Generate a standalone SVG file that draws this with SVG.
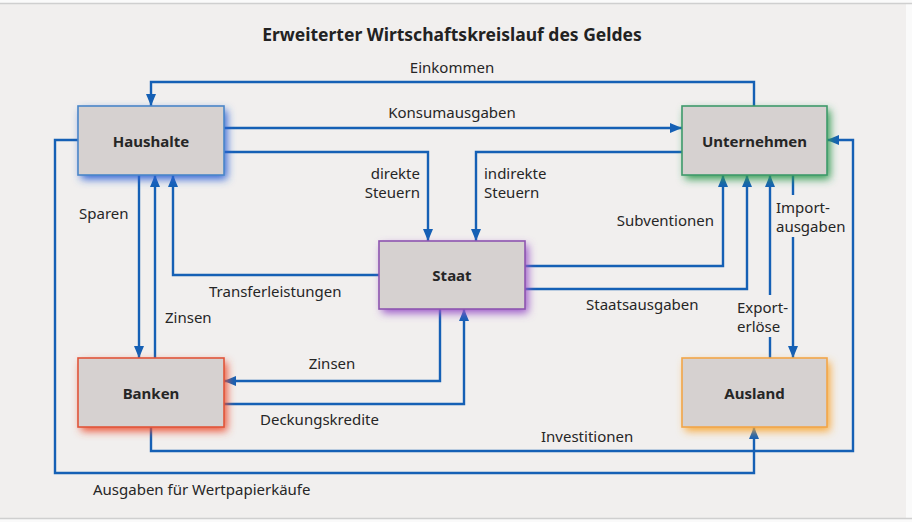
<svg xmlns="http://www.w3.org/2000/svg" width="912" height="522" viewBox="0 0 912 522">
<style>
.lbl{font-family:"Noto Sans","Open Sans","DejaVu Sans",sans-serif;font-size:15px;fill:#262626}
.title{font-family:"Noto Sans","Open Sans","DejaVu Sans",sans-serif;font-size:17.5px;font-weight:bold;fill:#222}
.nlbl{font-family:"Noto Sans","Open Sans","DejaVu Sans",sans-serif;font-size:15px;font-weight:bold;fill:#262626;text-anchor:middle}
.box{fill:#d6d1d0;stroke-width:1.6}
.glow{filter:url(#blur)}
.conn path{fill:none;stroke:#1560b5;stroke-width:2.4;marker-end:url(#arr)}
</style>
<defs>
<filter id="blur" x="-30%" y="-30%" width="160%" height="160%"><feGaussianBlur stdDeviation="4"/></filter>
<marker id="arr" markerUnits="userSpaceOnUse" markerWidth="13" markerHeight="11" refX="12" refY="5" orient="auto"><path d="M0,0 L12,5 L0,10 z" fill="#1560b5"/></marker>
</defs>
<rect x="0" y="0" width="912" height="522" fill="#fafafa"/>
<rect x="0" y="4" width="906" height="514" fill="#f1efee"/>
<line x1="0" y1="3.5" x2="912" y2="3.5" stroke="#cfcfcf" stroke-width="1.5"/>
<line x1="0" y1="518.5" x2="912" y2="518.5" stroke="#cfcfcf" stroke-width="1.5"/>
<text class="title" x="452" y="40.5" text-anchor="middle">Erweiterter Wirtschaftskreislauf des Geldes</text>

<g id="connectors" class="conn">
<path id="c-einkommen" d="M754,106 V82 H151 V106"/>
<path id="c-konsum" d="M224,128 H682"/>
<path id="c-direkt" d="M224,152 H428 V241"/>
<path id="c-indirekt" d="M682,152 H476 V241"/>
<path id="c-transfer" d="M379,275 H173 V175"/>
<path id="c-sparen" d="M139,175 V358"/>
<path id="c-zinsen1" d="M155,358 V175"/>
<path id="c-wertpapier" d="M78,140 H55 V473 H754 V427"/>
<path id="c-zinsen2" d="M440,309 V381 H224"/>
<path id="c-deckung" d="M224,404 H464 V309"/>
<path id="c-invest" d="M151,427 V451 H853 V140 H827"/>
<path id="c-subv" d="M525,266 H723 V175"/>
<path id="c-staatsaus" d="M525,289 H747 V175"/>
<path id="c-export" d="M770,358 V337 M770,295 V175"/>
<path id="c-import" d="M793,175 V195 M793,237 V358"/>
</g>

<g id="labels">
<text class="lbl" x="452" y="72.5" text-anchor="middle">Einkommen</text>
<text class="lbl" x="452" y="118" text-anchor="middle">Konsumausgaben</text>
<text class="lbl" x="420" y="179" text-anchor="end">direkte</text>
<text class="lbl" x="420" y="198" text-anchor="end">Steuern</text>
<text class="lbl" x="484" y="179">indirekte</text>
<text class="lbl" x="484" y="198">Steuern</text>
<text class="lbl" x="79" y="219">Sparen</text>
<text class="lbl" x="714" y="226" text-anchor="end">Subventionen</text>
<text class="lbl" x="776" y="213">Import-</text>
<text class="lbl" x="776" y="232">ausgaben</text>
<text class="lbl" x="209" y="297">Transferleistungen</text>
<text class="lbl" x="165" y="323">Zinsen</text>
<text class="lbl" x="332" y="369" text-anchor="middle">Zinsen</text>
<text class="lbl" x="260" y="425">Deckungskredite</text>
<text class="lbl" x="586" y="310">Staatsausgaben</text>
<text class="lbl" x="737" y="313">Export-</text>
<text class="lbl" x="737" y="332">erlöse</text>
<text class="lbl" x="541" y="442">Investitionen</text>
<text class="lbl" x="93" y="495">Ausgaben für Wertpapierkäufe</text>
</g>

<g id="haushalte">
<rect class="glow" x="81" y="110" width="146" height="69" fill="#2f62d6"/>
<rect class="box" x="78" y="106" width="146" height="69" stroke="#4a86c8"/>
<text class="nlbl" x="151" y="146.5">Haushalte</text>
</g>
<g id="unternehmen">
<rect class="glow" x="685" y="110" width="145" height="69" fill="#2e9a50"/>
<rect class="box" x="682" y="106" width="145" height="69" stroke="#3f9a6b"/>
<text class="nlbl" x="754.5" y="146.5">Unternehmen</text>
</g>
<g id="staat">
<rect class="glow" x="382" y="245" width="146" height="68" fill="#9a55c8"/>
<rect class="box" x="379" y="241" width="146" height="68" stroke="#8e55b0"/>
<text class="nlbl" x="452" y="281">Staat</text>
</g>
<g id="banken">
<rect class="glow" x="81" y="362" width="146" height="69" fill="#ec5030"/>
<rect class="box" x="78" y="358" width="146" height="69" stroke="#e0553a"/>
<text class="nlbl" x="151" y="398.5">Banken</text>
</g>
<g id="ausland">
<rect class="glow" x="685" y="362" width="145" height="69" fill="#f8a838"/>
<rect class="box" x="682" y="358" width="145" height="69" stroke="#f2a649"/>
<text class="nlbl" x="754.5" y="398.5">Ausland</text>
</g>
</svg>
